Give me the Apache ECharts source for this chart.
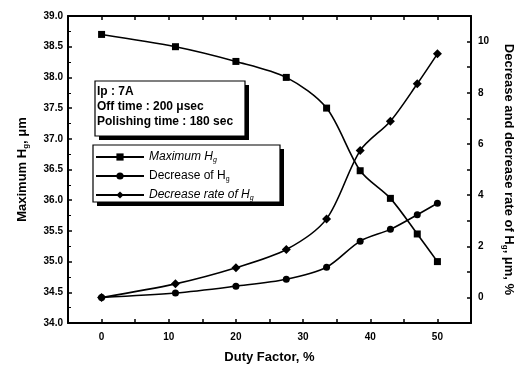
<!DOCTYPE html>
<html lang="en">
<head>
  <meta charset="UTF-8">
  <title>Duty factor chart</title>
  <script src="https://cdn.jsdelivr.net/npm/echarts@6/dist/echarts.min.js"></script>
  <style>
    html, body { margin: 0; padding: 0; background: #fff; }
  </style>
</head>
<body>
    <div id="main" style="width: 524px;height:372px;"></div>
    <script type="text/javascript">
        // values
        var dutyFactor   = [0, 11, 20, 27.5, 33.5, 38.5, 43, 47, 50];
        var maxHg        = [38.7, 38.5, 38.26, 38.0, 37.5, 36.48, 36.03, 35.45, 35.0];
        var decreaseHg   = [0, 0.17, 0.44, 0.71, 1.18, 2.2, 2.66, 3.23, 3.68];
        var decreaseRate = [0, 0.53, 1.16, 1.87, 3.07, 5.74, 6.89, 8.35, 9.52];
        var xLabels      = [0, 10, 20, 30, 40, 50];
        var rightLabels  = [0, 2, 4, 6, 8, 10];
        var infoLines    = ['Ip : 7A', 'Off time : 200 \u03bcsec', 'Polishing time : 180 sec'];

        var fontFam = '"Liberation Sans", Arial, sans-serif';

        function pairs(xs, ys) {
            var out = [];
            for (var i = 0; i < xs.length; i++) out.push([xs[i], ys[i]]);
            return out;
        }

        var myChart = echarts.init(document.getElementById('main'));

        var axisLine = { show: true, onZero: false, lineStyle: { color: '#000', width: 2 } };
        var labelStyle = { color: '#000', fontFamily: fontFam, fontWeight: 'bold', fontSize: 10 };

        var legendNames = {
            'Maximum Hg': '{i|Maximum H}{is|g}',
            'Decrease of Hg': '{n|Decrease of H}{ns|g}',
            'Decrease rate of Hg': '{i|Decrease rate of H}{is|g}'
        };

        var option = {
            animation: false,
            backgroundColor: '#fff',
            grid: { left: 68, right: 53, top: 16, bottom: 49 },
            legend: {
                orient: 'vertical',
                left: 95,
                top: 151,
                padding: 0,
                itemWidth: 48,
                itemHeight: 9,
                itemGap: 6,
                data: ['Maximum Hg', 'Decrease of Hg', 'Decrease rate of Hg'],
                formatter: function (name) { return legendNames[name]; },
                textStyle: {
                    color: '#000',
                    fontFamily: fontFam,
                    fontSize: 12,
                    rich: {
                        i:  { fontStyle: 'italic', fontSize: 12, fontFamily: fontFam, color: '#000' },
                        is: { fontStyle: 'italic', fontSize: 7, fontFamily: fontFam, color: '#000', padding: [7, 0, 0, 0] },
                        n:  { fontSize: 12, fontFamily: fontFam, color: '#000' },
                        ns: { fontSize: 7, fontFamily: fontFam, color: '#000', padding: [7, 0, 0, 0] }
                    }
                }
            },
            xAxis: [{
                type: 'value',
                min: -5, max: 55, interval: 5,
                name: 'Duty Factor, %',
                nameLocation: 'middle',
                nameGap: 28,
                nameTextStyle: { color: '#000', fontFamily: fontFam, fontWeight: 'bold', fontSize: 13 },
                axisLine: axisLine,
                axisTick: { inside: true, length: 4, lineStyle: { color: '#000', width: 1.5 } },
                axisLabel: Object.assign({
                    margin: 9,
                    formatter: function (v) { return xLabels.indexOf(v) >= 0 ? String(v) : ''; }
                }, labelStyle),
                splitLine: { show: false }
            }, {
                type: 'value',
                position: 'top',
                min: -5, max: 55, interval: 5,
                axisLine: axisLine,
                axisTick: { inside: true, length: 4, lineStyle: { color: '#000', width: 1.5 } },
                axisLabel: { show: false },
                splitLine: { show: false }
            }],
            yAxis: [{
                type: 'value',
                position: 'left',
                min: 34, max: 39, interval: 0.5,
                name: '{a|Maximum H}{s|g}{a|, \u03bcm}',
                nameLocation: 'middle',
                nameGap: 38,
                nameTextStyle: {
                    color: '#000', fontFamily: fontFam, fontWeight: 'bold', fontSize: 13,
                    rich: {
                        a: { color: '#000', fontFamily: fontFam, fontWeight: 'bold', fontSize: 13 },
                        s: { color: '#000', fontFamily: fontFam, fontWeight: 'bold', fontSize: 8, padding: [8, 0, 0, 0] }
                    }
                },
                axisLine: axisLine,
                axisTick: { inside: true, length: 4, lineStyle: { color: '#000', width: 1.5 } },
                minorTick: { show: true, splitNumber: 2, length: 3, lineStyle: { color: '#000', width: 1 } },
                axisLabel: Object.assign({
                    margin: 5,
                    formatter: function (v) { return v.toFixed(1); }
                }, labelStyle),
                splitLine: { show: false }
            }, {
                type: 'value',
                position: 'right',
                min: -1, max: 11, interval: 1,
                name: '{a|Decrease and decrease rate of H}{s|g}{a|, \u03bcm, %}',
                nameLocation: 'middle',
                nameRotate: -90,
                nameGap: 30,
                nameTextStyle: {
                    color: '#000', fontFamily: fontFam, fontWeight: 'bold', fontSize: 13,
                    rich: {
                        a: { color: '#000', fontFamily: fontFam, fontWeight: 'bold', fontSize: 13 },
                        s: { color: '#000', fontFamily: fontFam, fontWeight: 'bold', fontSize: 8, padding: [8, 0, 0, 0] }
                    }
                },
                axisLine: axisLine,
                axisTick: { inside: true, length: 4, lineStyle: { color: '#000', width: 1.5 } },
                axisLabel: Object.assign({
                    margin: 7,
                    formatter: function (v) { return rightLabels.indexOf(v) >= 0 ? String(v) : ''; }
                }, labelStyle),
                splitLine: { show: false }
            }],
            graphic: [
                // info box with heavy shadow
                { type: 'rect', shape: { x: 99, y: 85, width: 150, height: 55 }, style: { fill: '#000' }, z: 10 },
                { type: 'rect', shape: { x: 95, y: 81, width: 150, height: 55 }, style: { fill: '#fff', stroke: '#000', lineWidth: 1.2 }, z: 11 },
                { type: 'text', x: 97, y: 84, z: 12,
                  style: { text: infoLines.join('\n'), fill: '#000', fontFamily: fontFam, fontWeight: 'bold', fontSize: 12, lineHeight: 15 } },
                // legend box
                { type: 'rect', shape: { x: 97, y: 149, width: 187, height: 57 }, style: { fill: '#000' }, z: 0 },
                { type: 'rect', shape: { x: 93, y: 145, width: 187, height: 57 }, style: { fill: '#fff', stroke: '#000', lineWidth: 1.2 }, z: 0 }
            ],
            series: [{
                name: 'Maximum Hg',
                type: 'line',
                xAxisIndex: 0,
                yAxisIndex: 0,
                smooth: 0.3,
                symbol: 'rect',
                symbolSize: 7,
                itemStyle: { color: '#000' },
                lineStyle: { color: '#000', width: 1.6 },
                data: pairs(dutyFactor, maxHg),
                z: 5
            }, {
                name: 'Decrease of Hg',
                type: 'line',
                xAxisIndex: 0,
                yAxisIndex: 1,
                smooth: 0.3,
                symbol: 'circle',
                symbolSize: 7,
                itemStyle: { color: '#000' },
                lineStyle: { color: '#000', width: 1.6 },
                data: pairs(dutyFactor, decreaseHg),
                z: 5
            }, {
                name: 'Decrease rate of Hg',
                type: 'line',
                xAxisIndex: 0,
                yAxisIndex: 1,
                smooth: 0.3,
                symbol: 'diamond',
                symbolSize: 9,
                itemStyle: { color: '#000' },
                lineStyle: { color: '#000', width: 1.6 },
                data: pairs(dutyFactor, decreaseRate),
                z: 5
            }]
        };

        myChart.setOption(option);
    </script>
</body>
</html>
